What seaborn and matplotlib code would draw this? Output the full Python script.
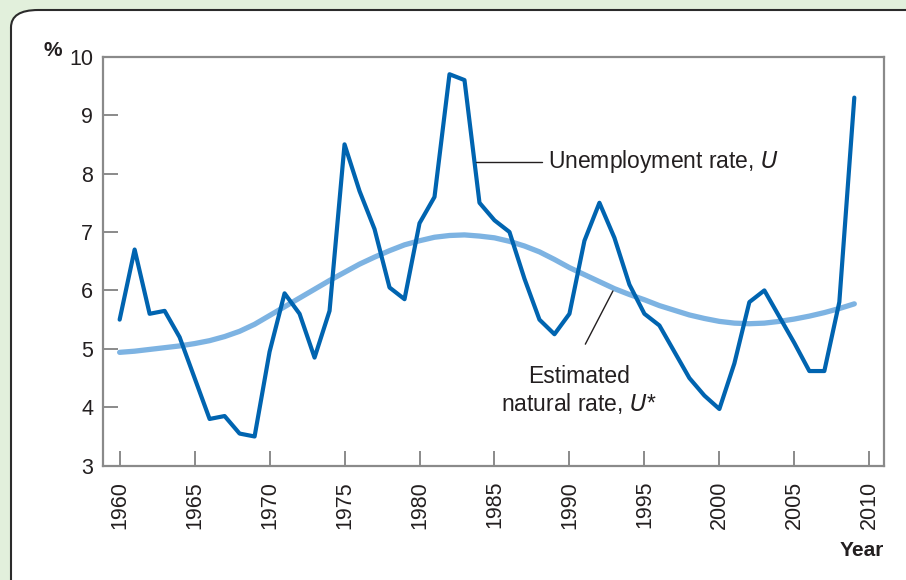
import matplotlib
matplotlib.use("Agg")
import matplotlib.pyplot as plt
from matplotlib.patches import FancyBboxPatch
import pandas as pd
import seaborn as sns

# data
years = list(range(1960, 2010))
unemployment = [5.5, 6.7, 5.6, 5.65, 5.2, 4.5, 3.8, 3.85, 3.55, 3.5,
                4.95, 5.95, 5.6, 4.85, 5.65, 8.5, 7.7, 7.05, 6.05, 5.85,
                7.15, 7.6, 9.7, 9.6, 7.5, 7.2, 7.0, 6.2, 5.5, 5.25,
                5.6, 6.85, 7.5, 6.9, 6.1, 5.6, 5.4, 4.95, 4.5, 4.2,
                3.97, 4.75, 5.8, 6.0, 5.55, 5.1, 4.62, 4.62, 5.8, 9.3]
natural_rate = [4.94, 4.96, 4.99, 5.02, 5.05, 5.09, 5.14, 5.21, 5.30, 5.42,
                5.57, 5.72, 5.87, 6.02, 6.17, 6.31, 6.45, 6.57, 6.68, 6.78,
                6.85, 6.91, 6.94, 6.95, 6.93, 6.90, 6.84, 6.76, 6.66, 6.53,
                6.39, 6.27, 6.15, 6.03, 5.93, 5.84, 5.74, 5.66, 5.58, 5.52,
                5.47, 5.44, 5.43, 5.44, 5.47, 5.51, 5.56, 5.62, 5.69, 5.77]
x_ticks = list(range(1960, 2011, 5))
y_ticks = list(range(3, 11))

df = pd.DataFrame({"Year": years, "U": unemployment, "Ustar": natural_rate})

sns.set_style("white")
plt.rcParams["font.family"] = ["Liberation Sans", "DejaVu Sans"]

fig = plt.figure(figsize=(9.06, 5.8), dpi=100)
fig.patch.set_facecolor("#e2f0dc")

# white rounded panel running off the right and bottom edges
panel = FancyBboxPatch((11 / 906, -0.2), 1.2, 1 - 10 / 580 + 0.2,
                       boxstyle="round,pad=0,rounding_size=0.03",
                       transform=fig.transFigure, facecolor="white",
                       edgecolor="#2b2b2b", linewidth=1.5, zorder=-1)
fig.patches.append(panel)

ax = fig.add_axes([103 / 906, 1 - 465.7 / 580, (883.7 - 103) / 906, (465.7 - 56.7) / 580])
ax.set_facecolor("white")

sns.lineplot(data=df, x="Year", y="Ustar", ax=ax, color="#7db3e2", linewidth=3.8)
sns.lineplot(data=df, x="Year", y="U", ax=ax, color="#0064b0", linewidth=3.0)

ax.set_xlim(1958.89, 2010.96)
ax.set_ylim(3, 10)
ax.set_xticks(x_ticks)
ax.set_xticklabels([str(t) for t in x_ticks], rotation=90, va="top")
ax.set_yticks(y_ticks)
ax.set_xlabel("")
ax.set_ylabel("")

for s in ax.spines.values():
    s.set_color("#8a8a8a")
    s.set_linewidth(1.6)
ax.tick_params(axis="both", direction="in", length=11, width=1.4,
               color="#8a8a8a", labelsize=15.5, labelcolor="#231f20",
               bottom=True, left=True)
ax.tick_params(axis="x", pad=11)
ax.tick_params(axis="y", pad=7)

# labels
fig.text(53 / 906, 1 - 50 / 580, "%", fontsize=15, fontweight="bold",
         color="#231f20", ha="center", va="center")
fig.text(883.7 / 906, 1 - 550 / 580, "Year", fontsize=15, fontweight="bold",
         color="#231f20", ha="right", va="center")

# annotations
ax.plot([1983.75, 1988.2], [8.2, 8.2], color="#231f20", linewidth=1)
ax.text(1988.55, 8.2, "Unemployment rate, $\\it{U}$", fontsize=16.5,
        color="#231f20", ha="left", va="center")
ax.plot([1992.9, 1991.06], [5.99, 5.08], color="#231f20", linewidth=1)
ax.text(1990.66, 4.53, "Estimated", fontsize=16.5, color="#231f20",
        ha="center", va="center")
ax.text(1990.66, 4.07, "natural rate, $\\it{U}$*", fontsize=16.5,
        color="#231f20", ha="center", va="center")

fig.savefig("out.png", dpi=100, facecolor=fig.get_facecolor())
